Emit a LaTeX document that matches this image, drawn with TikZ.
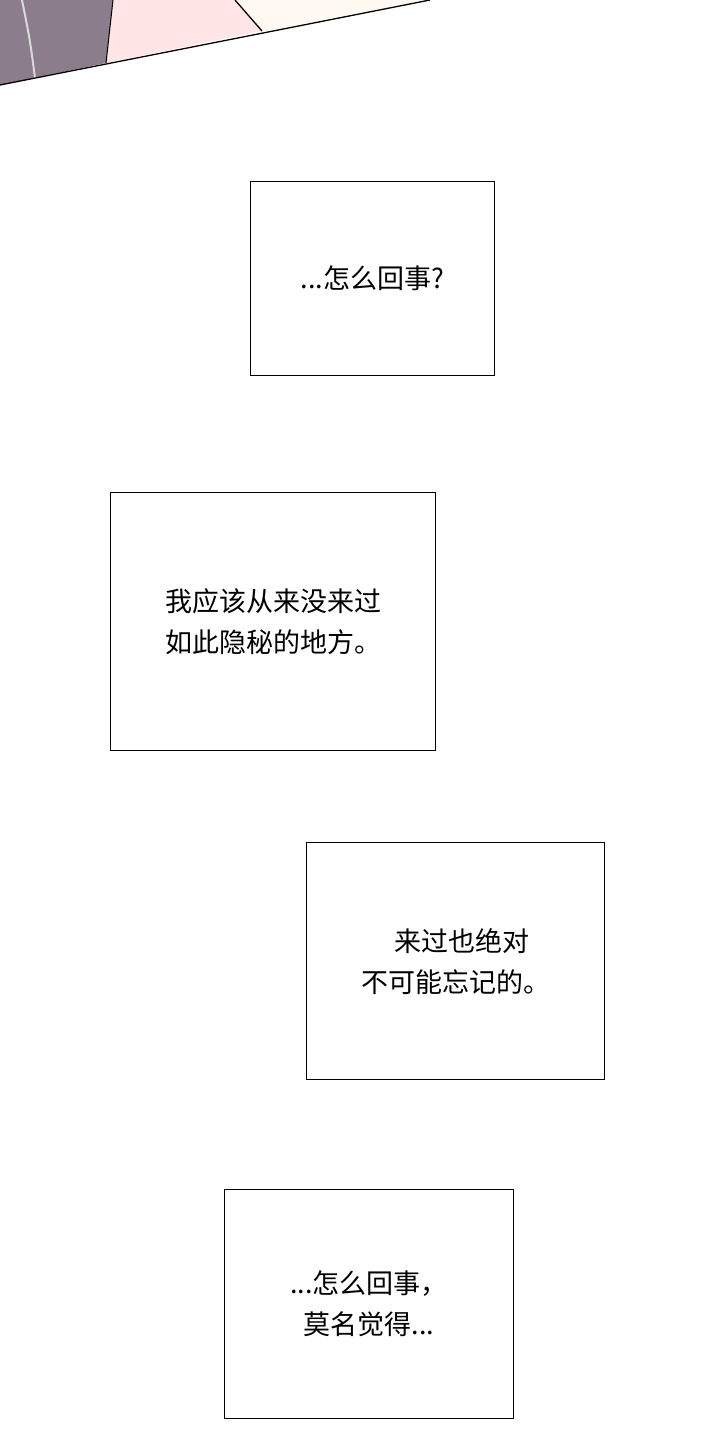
\documentclass[tikz,border=0pt]{standalone}
\usepackage{fontspec}
\setmainfont{Noto Sans CJK SC}
\begin{document}
\begin{tikzpicture}[x=1pt,y=-1pt,
  panel/.style={draw=black, line width=1.2pt, fill=white},
  words/.style={align=left, font=\fontsize{27}{41}\selectfont, inner sep=0pt}
]
\useasboundingbox (0,0) rectangle (720,1440);
% top scene
\fill[gray!60!violet!50!black!60] (0,0) -- (113,0) -- (106,63) -- (0,85) -- cycle;
\fill[pink!40] (113,0) -- (235,0) -- (262,31) -- (106,63) -- cycle;
\fill[orange!5] (235,0) -- (430,0) -- (262,31) -- cycle;
\draw[gray!30, line width=2pt] (22,0) .. controls (30,40) .. (35,78);
\draw[black, line width=1pt] (113,0) -- (106,63);
\draw[black, line width=1.3pt] (235,0) -- (262,31);
\draw[black, line width=1.3pt] (0,85) -- (430,0);
% boxes
\node[panel, minimum width=244, minimum height=194, anchor=north west] (first) at (250,181) {};
\node[words] (firsttext) at (first.center) {...怎么回事?};
\node[panel, minimum width=325, minimum height=258, anchor=north west] (second) at (110,492) {};
\node[words] (secondtext) at (second.center) {我应该从来没来过\\如此隐秘的地方。};
\node[panel, minimum width=298, minimum height=237, anchor=north west] (third) at (306,842) {};
\node[words, align=center] (thirdtext) at (third.center) {\ \ 来过也绝对\\不可能忘记的。};
\node[panel, minimum width=289, minimum height=229, anchor=north west] (fourth) at (224,1189) {};
\node[words, align=center] (fourthtext) at (fourth.center) {...怎么回事，\\莫名觉得...};
\end{tikzpicture}
\end{document}
